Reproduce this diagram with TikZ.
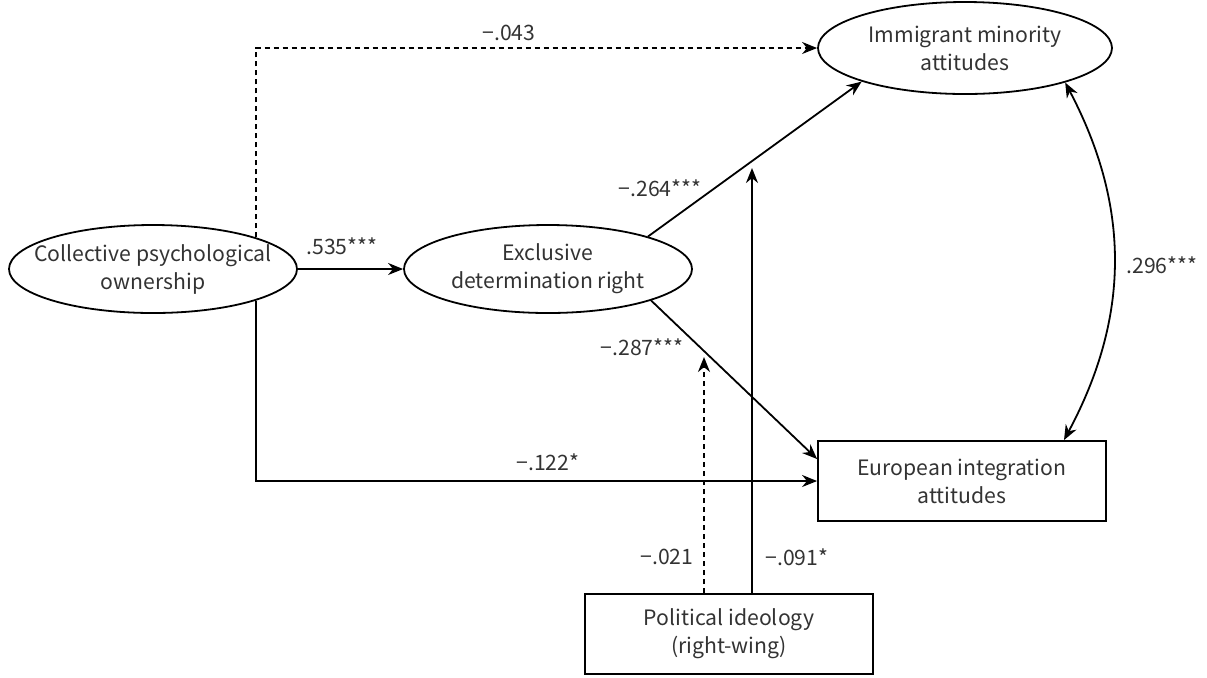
\documentclass[tikz,border=0pt]{standalone}
\usepackage{fontspec}
\setmainfont{Noto Sans CJK JP}
\usepackage{tikz}
\usetikzlibrary{shapes.geometric,arrows.meta}

\begin{document}
\begin{tikzpicture}[x=0.5pt, y=-0.5pt, line width=0.9pt, font=\fontsize{10.6}{14}\selectfont,
    latent/.style={ellipse, draw, minimum width=144pt, minimum height=44pt, align=center, inner xsep=-12pt, inner ysep=0pt, text=black!80},
    observed/.style={rectangle, draw, minimum width=144pt, minimum height=40pt, align=center, inner sep=0pt, text=black!80},
    arr/.style={-{Stealth[length=7.5pt, width=6pt]}},
    darr/.style={arr, dash pattern=on 2.5pt off 2pt},
    coef/.style={text=black!80, inner sep=1pt}
  ]
  \useasboundingbox (0,0) rectangle (1207,677);
  \node[latent] (cpo) at (153,269) {Collective psychological\\ownership};
  \node[latent] (edr) at (548,269) {Exclusive\\determination right};
  \node[latent, minimum width=147pt, minimum height=46pt] (ima) at (965,48) {Immigrant minority\\attitudes};
  \node[observed] (eia) at (962,481) {European integration\\attitudes};
  \node[observed] (pol) at (729,634) {Political ideology\\(right-wing)};
  \coordinate (mod1) at (704,357);
  \coordinate (mod2) at (752,168);

  \draw[darr] (cpo.17) |- (ima.west);
  \draw[arr] (cpo.-17) |- (eia.west);
  \draw[arr] (cpo.east) -- (edr.west);
  \draw[arr] (edr.18) -- (ima.198);
  \draw[arr] (edr.-17) -- ([yshift=11pt]eia.west);
  \draw[arr] (mod2 |- pol.north) -- (mod2);
  \draw[darr] (mod1 |- pol.north) -- (mod1);
  \draw[{Stealth[length=7.5pt, width=6pt]}-{Stealth[length=7.5pt, width=6pt]}] (ima.-19) to[bend left=28] ([xshift=51pt]eia.north);

  \node[coef] (c043) at (509,33) {−.043};
  \node[coef] (c535) at (342,246) {.535***};
  \node[coef] (c264) at (660,188) {−.264***};
  \node[coef] (c287) at (642,347) {−.287***};
  \node[coef] (c122) at (548,462) {−.122*};
  \node[coef] (c021) at (667,557) {−.021};
  \node[coef] (c091) at (797,557) {−.091*};
  \node[coef] (c296) at (1162,265) {.296***};
\end{tikzpicture}
\end{document}
